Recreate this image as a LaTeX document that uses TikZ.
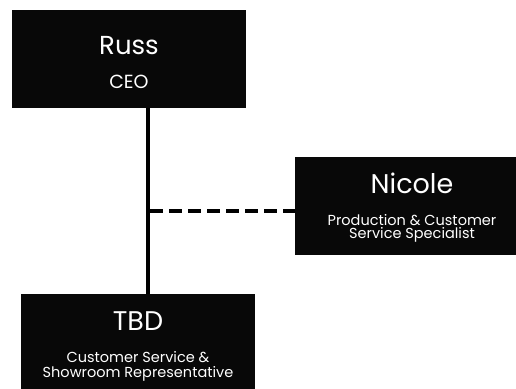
\documentclass[tikz,border=0pt]{standalone}
\usepackage{fontspec}
\setmainfont{Poppins}
\definecolor{boxblack}{HTML}{080808}
\begin{document}
\begin{tikzpicture}[x=1pt,y=-1pt,
  orgbox/.style={draw=none,fill=boxblack,rectangle,inner sep=0pt},
  nametext/.style={text=white,anchor=base,inner sep=0pt,font=\fontsize{26}{28}\selectfont},
  roletext/.style={text=white,anchor=base,inner sep=0pt,font=\fontsize{19}{20}\selectfont},
  smalltext/.style={text=white,anchor=base,inner sep=0pt,align=center,font=\fontsize{14.5}{15}\selectfont},
  solidlink/.style={line width=3.5pt,draw=black},
  dashlink/.style={line width=4pt,draw=black,dash pattern=on 13pt off 6pt}]
\useasboundingbox (0,0) rectangle (516,388);
\fill[white] (0,0) rectangle (516,388);
\clip (0,0) rectangle (516,388);
% line anchors
\coordinate (top) at (148,108);
\coordinate (bot) at (148,294);
\coordinate (dashstart) at (150,211);
\coordinate (dashend) at (300,211);
% connectors
\draw[solidlink] (top) -- (bot);
\draw[dashlink] (dashstart) -- (dashend);
% boxes
\node[orgbox,minimum width=234pt,minimum height=98pt] (russ) at (129,59) {};
\node[orgbox,minimum width=221pt,minimum height=98pt] (nicole) at (405.5,206) {};
\node[orgbox,minimum width=234pt,minimum height=98pt] (tbd) at (138,343) {};
% texts
\node[nametext] (russname) at (129,54) {Russ};
\node[roletext] (russrole) at (129,88) {CEO};
\node[nametext,font=\fontsize{27}{29}\selectfont] (nicolename) at (412,193) {Nicole};
\node[smalltext] (nicolerole1) at (412,225) {Production \& Customer};
\node[smalltext] (nicolerole2) at (412,238) {Service Specialist};
\node[nametext,font=\fontsize{27}{29}\selectfont] (tbdname) at (138,330) {TBD};
\node[smalltext] (tbdrole1) at (138,362) {Customer Service \&};
\node[smalltext] (tbdrole2) at (138,377) {Showroom Representative};
\end{tikzpicture}
\end{document}
